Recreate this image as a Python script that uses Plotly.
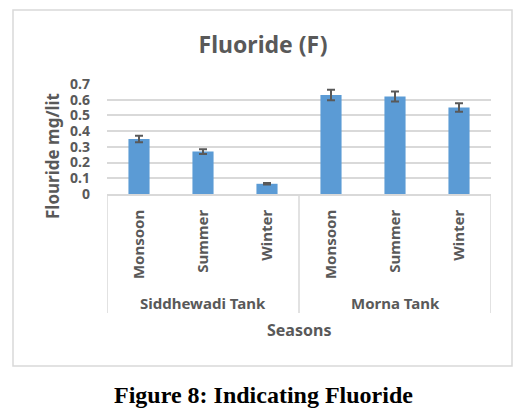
import plotly.graph_objects as go

# data
tanks = ["Siddhewadi Tank", "Morna Tank"]
seasons = ["Monsoon", "Summer", "Winter", "Monsoon", "Summer", "Winter"]
fluoride = [0.35, 0.27, 0.065, 0.63, 0.62, 0.55]
fluoride_err = [0.02, 0.015, 0.005, 0.033, 0.032, 0.027]
y_ticks = [0, 0.1, 0.2, 0.3, 0.4, 0.5, 0.6, 0.7]
y_ticktext = ["0", "0.1", "0.2", "0.3", "0.4", "0.5", "0.6", "0.7"]

# the page body has an 8px margin, so the figure is drawn 8px smaller
OFF = 8
W, H = 528 - OFF, 420 - OFF
L, R, T, B = 107 - OFF, 491 - OFF, 84 - OFF, 194 - OFF  # plot area in figure pixels

def px_x(p):  # p is a screen pixel
    return (p - OFF - L) / (R - L)

def px_y(p):
    return (B - (p - OFF)) / (B - T)

grey = "#595959"
line_grey = "#d9d9d9"
font_fam = "Noto Sans, Open Sans, sans-serif"

x_pos = list(range(len(seasons)))

fig = go.Figure()
fig.add_trace(go.Bar(
    x=x_pos, y=fluoride,
    marker=dict(color="#5B9BD5", line=dict(width=0)),
    width=0.33,
    error_y=dict(type="data", array=fluoride_err, color=grey, thickness=2, width=4),
    showlegend=False,
))

fig.update_layout(
    width=W, height=H,
    margin=dict(l=L, r=W - R, t=T, b=H - B),
    paper_bgcolor="white", plot_bgcolor="white",
    font=dict(family=font_fam, color=grey),
    title=dict(text="<b>Fluoride (F)</b>", x=(263 - OFF) / W, xref="container", xanchor="center",
               y=1 - (45 - OFF) / H, yref="container", yanchor="middle",
               font=dict(size=23, color=grey, family=font_fam)),
)

fig.update_xaxes(
    range=[-0.5, 5.5], tickvals=x_pos, ticktext=["<b>%s</b>" % s for s in seasons],
    tickangle=-90, tickfont=dict(size=15, color=grey), ticks="", ticklabelstandoff=8,
    showgrid=False, zeroline=False, showline=True, linecolor=line_grey, linewidth=1.5,
)
fig.update_yaxes(
    range=[0, 0.7], tickvals=y_ticks, ticktext=["<b>%s</b>" % t for t in y_ticktext],
    tickfont=dict(size=14, color=grey), ticks="", ticklabelstandoff=16,
    showgrid=True, gridcolor=line_grey, gridwidth=1.5, zeroline=False, showline=False,
)

shapes = []
# category dividers under the axis
for xv in [-0.5, 2.5, 5.5]:
    shapes.append(dict(type="line", xref="x", yref="paper", x0=xv, x1=xv,
                       y0=0, y1=px_y(313), line=dict(color=line_grey, width=1.5)))
# chart border
shapes.append(dict(type="rect", xref="paper", yref="paper",
                   x0=px_x(13), x1=px_x(512), y0=px_y(366), y1=px_y(10),
                   line=dict(color=line_grey, width=1.5), layer="below"))
fig.update_layout(shapes=shapes)

ann = []
for i, t in enumerate(tanks):
    ann.append(dict(text="<b>%s</b>" % t, x=1 + 3 * i, xref="x", y=px_y(303), yref="paper",
                    xanchor="center", yanchor="middle",
                    showarrow=False, font=dict(size=15, color=grey)))
ann.append(dict(text="<b>Seasons</b>", x=2.5, xref="x", y=px_y(330), yref="paper",
                xanchor="center", yanchor="middle",
                showarrow=False, font=dict(size=16, color=grey)))
ann.append(dict(text="<b>Flouride mg/lit</b>", x=px_x(52), xref="paper", y=px_y(156), yref="paper",
                xanchor="center", yanchor="middle",
                showarrow=False, textangle=-90, font=dict(size=17, color=grey)))
ann.append(dict(text="<b>Figure 8: Indicating Fluoride</b>", x=px_x(263), xref="paper",
                y=px_y(395), yref="paper", xanchor="center", yanchor="middle", showarrow=False,
                font=dict(size=24, color="black", family="Liberation Serif, Times New Roman, serif")))
fig.update_layout(annotations=ann)

fig.write_html("out.html")
